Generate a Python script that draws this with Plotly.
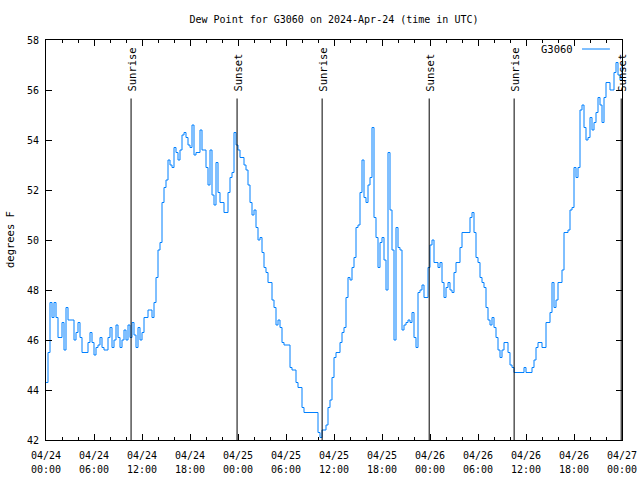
import pandas as pd
import plotly.graph_objects as go

start_time = "2024-04-24 00:00"
step = "15min"
dew_point = [
    44.3, 45.5, 47.5, 46.9, 47.5, 46.9, 46.1, 46.1, 46.7, 45.6,
    47.3, 46.8, 46.8, 46.8, 46.0, 46.3, 46.7, 46.1, 45.5, 45.5,
    45.5, 45.9, 46.3, 45.9, 45.4, 45.7, 45.8, 46.1, 45.7, 45.6,
    45.6, 46.1, 46.5, 45.7, 46.0, 46.6, 46.1, 45.7, 46.0, 46.4,
    46.0, 46.6, 46.1, 46.7, 46.2, 45.7, 46.5, 46.0, 46.3, 46.9,
    46.9, 47.2, 47.2, 46.9, 47.5, 48.5, 49.6, 49.9, 51.5, 52.1,
    52.4, 53.2, 53.0, 52.9, 53.7, 53.5, 53.2, 53.6, 54.2, 54.3,
    54.1, 53.8, 53.7, 54.6, 53.4, 53.5, 53.5, 54.4, 53.6, 53.6,
    52.9, 52.2, 53.6, 51.8, 51.4, 53.1, 51.9, 51.5, 51.5, 51.1,
    51.1, 51.9, 52.5, 52.7, 54.3, 53.8, 53.6, 53.3, 53.3, 53.0,
    52.8, 52.2, 51.5, 51.0, 51.2, 50.5, 50.0, 50.1, 49.5, 48.9,
    48.7, 48.3, 48.3, 47.6, 47.3, 46.6, 46.8, 46.5, 45.9, 45.8,
    45.8, 45.8, 44.9, 44.8, 44.8, 44.3, 44.1, 44.1, 43.3, 43.1,
    43.1, 43.1, 43.1, 43.1, 43.1, 43.1, 42.3, 42.1, 42.4, 42.4,
    42.6, 43.3, 43.6, 44.5, 45.3, 45.5, 45.5, 45.9, 46.3, 46.5,
    47.7, 48.5, 48.4, 48.9, 49.3, 50.5, 50.6, 51.9, 53.2, 51.7,
    51.5, 52.2, 52.5, 54.5, 50.9, 50.1, 48.9, 49.9, 50.1, 49.2,
    48.0, 53.5, 51.2, 49.6, 46.0, 50.5, 49.7, 49.6, 46.4, 46.6,
    46.7, 46.8, 46.7, 47.1, 46.1, 45.7, 47.9, 48.0, 48.2, 47.7,
    47.7, 48.9, 49.8, 50.0, 49.1, 49.1, 48.9, 49.1, 48.3, 47.7,
    48.1, 48.3, 48.0, 47.9, 48.7, 49.1, 49.1, 49.7, 50.3, 50.3,
    50.3, 50.3, 50.9, 51.1, 50.3, 49.3, 49.1, 48.5, 48.3, 48.1,
    47.3, 46.8, 46.6, 46.9, 46.5, 46.1, 45.6, 45.3, 45.6, 45.9,
    45.9, 45.5, 45.0, 44.9, 44.7, 44.7, 44.7, 44.7, 44.7, 44.9,
    44.7, 44.7, 44.7, 44.9, 45.2, 45.7, 45.9, 45.9, 45.7, 45.7,
    46.7, 46.7, 47.1, 48.3, 47.3, 47.6, 48.3, 48.3, 48.8, 50.3,
    50.3, 50.4, 51.2, 51.3, 52.9, 52.5, 52.9, 55.2, 55.4, 54.5,
    54.0, 54.1, 54.9, 54.4, 54.7, 55.1, 55.7, 55.4, 54.7, 55.7,
    56.3, 56.3, 56.0, 56.0, 56.7, 57.1, 56.6, 56.4, 57.1,
]
sun_events = ["Sunrise", "Sunset", "Sunrise", "Sunset", "Sunrise", "Sunset"]
sun_times = ["2024-04-24 10:38", "2024-04-24 23:53", "2024-04-25 10:31",
             "2024-04-25 23:54", "2024-04-26 10:31", "2024-04-26 23:54"]
tick_vals = ["2024-04-24 00:00", "2024-04-24 06:00", "2024-04-24 12:00", "2024-04-24 18:00",
             "2024-04-25 00:00", "2024-04-25 06:00", "2024-04-25 12:00", "2024-04-25 18:00",
             "2024-04-26 00:00", "2024-04-26 06:00", "2024-04-26 12:00", "2024-04-26 18:00",
             "2024-04-27 00:00"]
tick_dates = ["04/24", "04/24", "04/24", "04/24", "04/25", "04/25", "04/25", "04/25",
              "04/26", "04/26", "04/26", "04/26", "04/27"]
tick_times = ["00:00", "06:00", "12:00", "18:00"] * 3 + ["00:00"]
y_ticks = [42, 44, 46, 48, 50, 52, 54, 56, 58]
series_name = "G3060"
title = "Dew Point for G3060 on 2024-Apr-24 (time in UTC)"

times = pd.date_range(start_time, periods=len(dew_point), freq=step)
FONT = "DejaVu Sans Mono"
BLUE = "#0080ff"
x_range = [tick_vals[0], tick_vals[-1]]

fig = go.Figure()
fig.add_trace(go.Scatter(x=times, y=dew_point, mode="lines", line_shape="hv",
                         line=dict(color=BLUE, width=1), name=series_name, showlegend=False))
# invisible trace for the time-of-day tick row
fig.add_trace(go.Scatter(x=[times[0]], y=[dew_point[0]], xaxis="x2", mode="markers",
                         marker=dict(opacity=0), showlegend=False, hoverinfo="skip"))

for ev, t in zip(sun_events, sun_times):
    fig.add_shape(type="line", xref="x", yref="y", x0=t, x1=t, y0=42, y1=55.66,
                  line=dict(color="black", width=1))
    fig.add_annotation(x=t, y=55.86, xref="x", yref="y", text=ev, textangle=-90,
                       showarrow=False, xanchor="center", yanchor="bottom",
                       font=dict(family=FONT, size=10.5, color="black"))

# legend (text then sample line, gnuplot style)
fig.add_annotation(x=0.918, y=0.9775, xref="paper", yref="paper", text=series_name,
                   showarrow=False, xanchor="right", yanchor="middle",
                   font=dict(family=FONT, size=10.5, color="black"))
fig.add_shape(type="line", xref="paper", yref="paper", x0=0.9306, x1=0.979,
              y0=0.9775, y1=0.9775, line=dict(color=BLUE, width=1))

fig.add_annotation(x=-0.0625, y=0.5, xref="paper", yref="paper", text="degrees F",
                   textangle=-90, showarrow=False, xanchor="center", yanchor="middle",
                   font=dict(family=FONT, size=10.5, color="black"))

fig.update_layout(
    width=640, height=480,
    margin=dict(l=46, r=18, t=40, b=40, autoexpand=False),
    paper_bgcolor="white", plot_bgcolor="white",
    title=dict(text=title, x=0.5, xref="paper", y=1 - 19 / 480, yref="container",
               yanchor="middle", automargin=False,
               font=dict(family=FONT, size=10, color="black")),
    xaxis=dict(type="date", range=x_range, tickvals=tick_vals, ticktext=tick_dates,
               ticks="inside", ticklen=6, tickcolor="black", showgrid=False,
               showline=True, linecolor="black", linewidth=1, mirror="ticks",
               ticklabelstandoff=6, automargin=False,
               minor=dict(dtick=7200000, ticks="inside", ticklen=3, tickcolor="black", showgrid=False),
               tickfont=dict(family=FONT, size=10, color="black"), zeroline=False),
    xaxis2=dict(type="date", range=x_range, overlaying="x", side="bottom", anchor="y",
                tickvals=tick_vals, ticktext=tick_times, ticks="", showline=False,
                showgrid=False, ticklabelstandoff=22, zeroline=False, automargin=False,
                tickfont=dict(family=FONT, size=10, color="black")),
    yaxis=dict(range=[42, 58], tickvals=y_ticks, ticks="inside", ticklen=6,
               tickcolor="black", showgrid=False, showline=True, linecolor="black",
               linewidth=1, mirror="ticks", zeroline=False, ticklabelstandoff=4,
               automargin=False,
               tickfont=dict(family=FONT, size=10, color="black")),
    hovermode=False,
)

fig.write_html("out.html", config={"displayModeBar": False},
               post_script="document.body.style.margin='0';")
